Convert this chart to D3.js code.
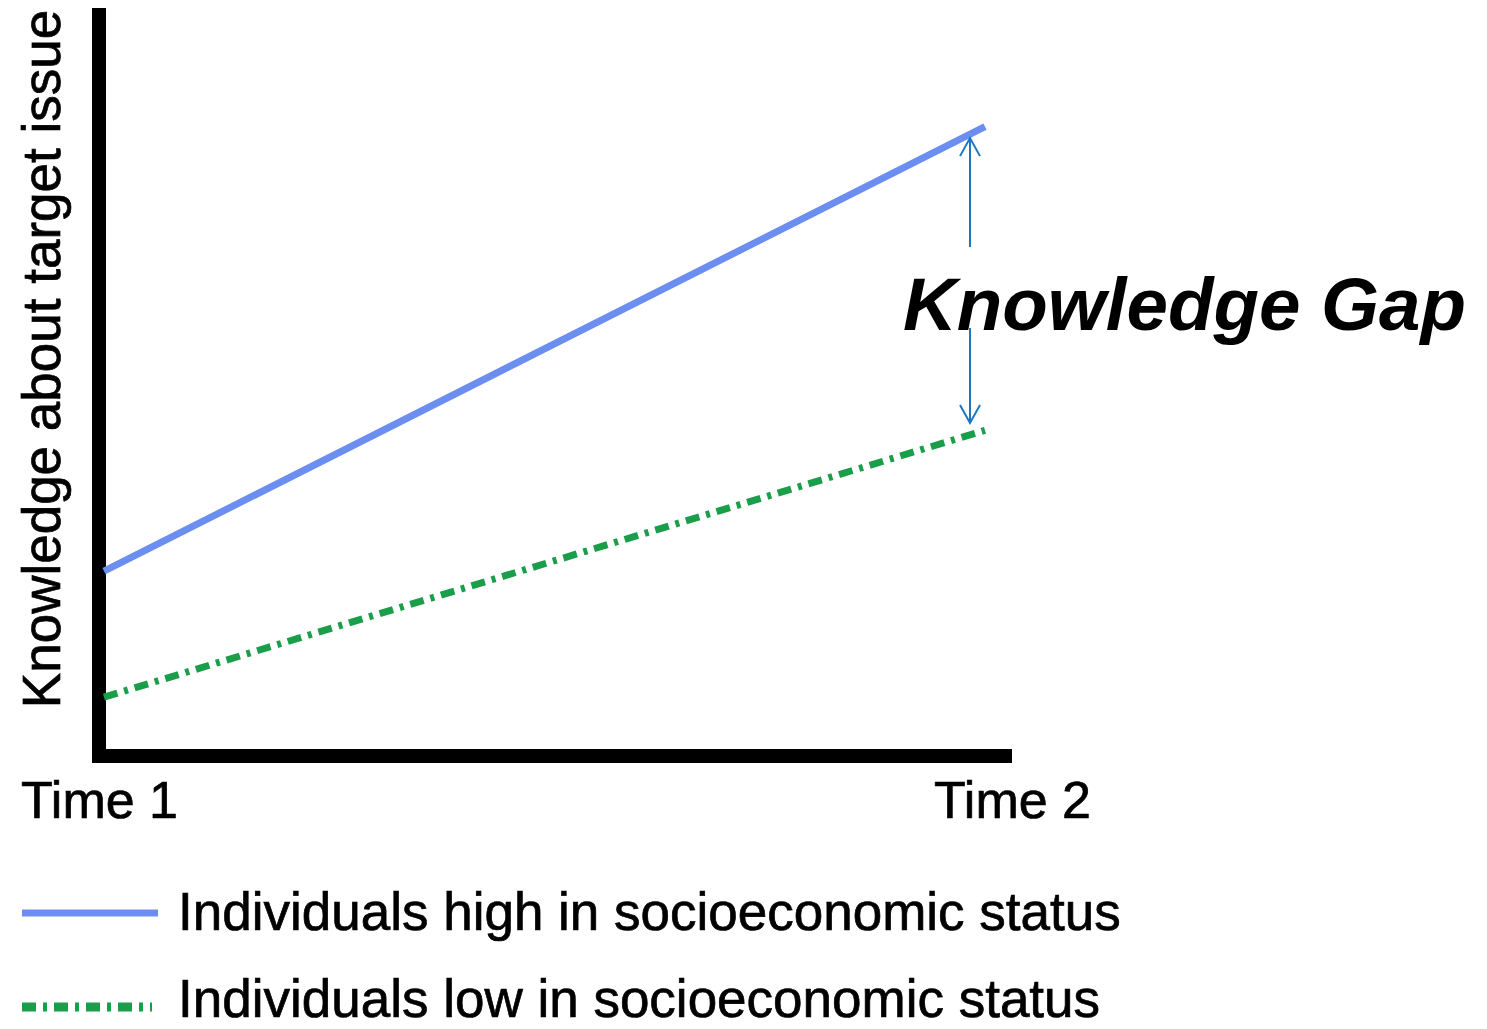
<!DOCTYPE html>
<html>
<head>
<meta charset="utf-8">
<script src="https://cdn.jsdelivr.net/npm/d3@7"></script>
<style>
  html, body { margin: 0; padding: 0; background: #fff; }
  svg { display: block; font-family: "Liberation Sans", Arial, sans-serif; }
</style>
</head>
<body>
<svg id="chart" width="1487" height="1029"></svg>
<script>
// Knowledge-gap hypothesis: two groups measured at two points in time
const categories = ["Time 1", "Time 2"];
const highSES = [24, 84];   // knowledge, high socioeconomic status
const lowSES  = [7, 43];    // knowledge, low socioeconomic status
const seriesLabels = [
  "Individuals high in socioeconomic status",
  "Individuals low in socioeconomic status"
];
const yAxisLabel = "Knowledge about target issue";
const gapLabel = "Knowledge Gap";

const svg = d3.select("#chart");
const FONT = "'Liberation Sans', Arial, sans-serif";

const colors = { high: "#6b8ef0", low: "#1a9e4a", arrow: "#1a78c2" };
const dashLow = "14,7,4,7";

// scales
const xLine = d3.scalePoint().domain(categories).range([104, 985]);
const xAxisScale = d3.scalePoint().domain(categories).range([99, 1012]);
const y = d3.scaleLinear().domain([0, 100]).range([749, 8]);

// axes frame (thick L-shape)
svg.append("path")
  .attr("d", `M${xAxisScale.range()[0]},${y(100)} V756 H${xAxisScale.range()[1]}`)
  .attr("fill", "none")
  .attr("stroke", "#000")
  .attr("stroke-width", 14)
  .attr("stroke-linejoin", "miter")
  .attr("stroke-linecap", "butt");

// x axis category labels
const xAxis = d3.axisBottom(xAxisScale).tickSize(0).tickPadding(0);
const gx = svg.append("g").attr("transform", "translate(0,818)").call(xAxis);
gx.select(".domain").remove();
gx.selectAll("text")
  .attr("dy", 0)
  .attr("y", 0)
  .attr("font-size", 52)
  .attr("font-family", FONT)
  .attr("fill", "#000")
  .attr("stroke", "#000")
  .attr("stroke-width", 0.7);

// y axis title
svg.append("text")
  .attr("transform", "translate(60,359) rotate(-90)")
  .attr("text-anchor", "middle")
  .attr("font-family", FONT)
  .attr("font-size", 53)
  .attr("fill", "#000")
  .attr("stroke", "#000")
  .attr("stroke-width", 0.7)
  .text(yAxisLabel);

// series lines
const line = d3.line().x((d, i) => xLine(categories[i])).y(d => y(d));

svg.append("path")
  .datum(lowSES)
  .attr("d", line)
  .attr("fill", "none")
  .attr("stroke", colors.low)
  .attr("stroke-width", 7)
  .attr("stroke-dasharray", dashLow);

svg.append("path")
  .datum(highSES)
  .attr("d", line)
  .attr("fill", "none")
  .attr("stroke", colors.high)
  .attr("stroke-width", 7);

// gap arrow between the two lines, near Time 2
const ax = 970;
const t = (ax - xLine(categories[0])) / (xLine(categories[1]) - xLine(categories[0]));
const yHighAt = y(highSES[0] + (highSES[1] - highSES[0]) * t);
const yLowAt = y(lowSES[0] + (lowSES[1] - lowSES[0]) * t);
const topTip = yHighAt + 4;
const botTip = yLowAt - 12;
const arrowG = svg.append("g")
  .attr("stroke", colors.arrow)
  .attr("stroke-width", 2)
  .attr("fill", "none");
arrowG.append("path").attr("d", `M${ax},${topTip} V247`);
arrowG.append("path").attr("d", `M${ax - 10},${topTip + 18} L${ax},${topTip} L${ax + 10},${topTip + 18}`);
arrowG.append("path").attr("d", `M${ax},328 V${botTip}`);
arrowG.append("path").attr("d", `M${ax - 10},${botTip - 18} L${ax},${botTip} L${ax + 10},${botTip - 18}`);

// gap label
svg.append("text")
  .attr("x", 903)
  .attr("y", 330)
  .attr("font-family", FONT)
  .attr("font-size", 74.5)
  .attr("font-weight", "bold")
  .attr("font-style", "italic")
  .attr("fill", "#000")
  .text(gapLabel);

// legend
const legend = svg.append("g");
const legendRows = [
  { label: seriesLabels[0], color: colors.high, dash: null, y: 913, x2: 158, w: 7, ty: 930 },
  { label: seriesLabels[1], color: colors.low, dash: dashLow, y: 1007, x2: 152, w: 9, ty: 1017 }
];
legendRows.forEach(r => {
  legend.append("line")
    .attr("x1", 22).attr("x2", r.x2)
    .attr("y1", r.y).attr("y2", r.y)
    .attr("stroke", r.color)
    .attr("stroke-width", r.w)
    .attr("stroke-dasharray", r.dash);
  legend.append("text")
    .attr("x", 178)
    .attr("y", r.ty)
    .attr("font-family", FONT)
    .attr("font-size", 53)
    .attr("fill", "#000")
    .attr("stroke", "#000")
    .attr("stroke-width", 0.7)
    .text(r.label);
});
</script>
</body>
</html>
